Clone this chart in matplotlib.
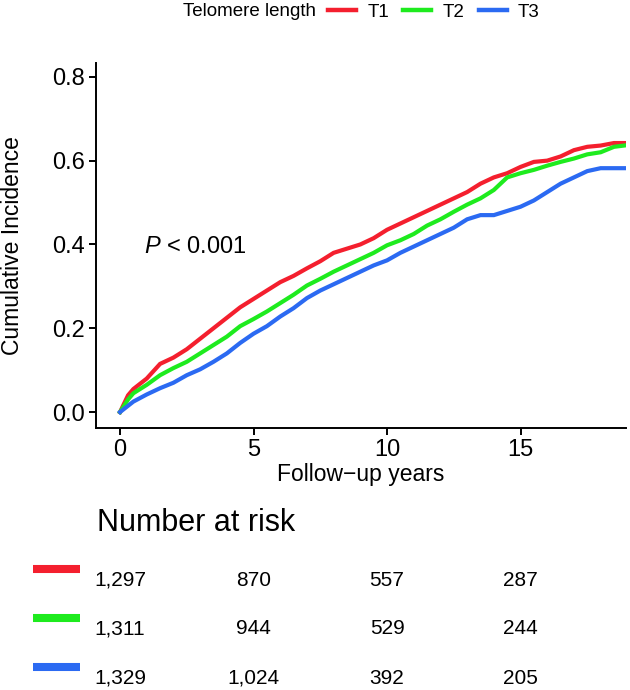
import numpy as np
import matplotlib.pyplot as plt
from matplotlib.lines import Line2D
from matplotlib.transforms import blended_transform_factory

plt.rcParams['font.family'] = ['Liberation Sans', 'DejaVu Sans']
plt.rcParams['mathtext.fontset'] = 'custom'
plt.rcParams['mathtext.it'] = 'Liberation Sans:italic'
plt.rcParams['mathtext.rm'] = 'Liberation Sans'

# cumulative incidence (years, value)
t_red = [0, 0.3, 0.5, 1, 1.5, 2, 2.5, 3, 3.5, 4, 4.5, 5, 5.5, 6, 6.5, 7, 7.5, 8, 8.5, 9, 9.5,
         10, 10.5, 11, 11.5, 12, 12.5, 13, 13.5, 14, 14.5, 15, 15.5, 16, 16.5, 17, 17.5, 18, 18.5, 19]
ci_red = [0, 0.04, 0.055, 0.08, 0.115, 0.13, 0.15, 0.175, 0.2, 0.225, 0.25, 0.27, 0.29, 0.31, 0.325,
          0.343, 0.36, 0.38, 0.39, 0.40, 0.415, 0.435, 0.45, 0.465, 0.48, 0.495, 0.51, 0.525, 0.545,
          0.56, 0.57, 0.585, 0.597, 0.60, 0.61, 0.625, 0.633, 0.636, 0.642, 0.642]

t_green = t_red
ci_green = [0, 0.03, 0.045, 0.065, 0.088, 0.105, 0.12, 0.14, 0.16, 0.18, 0.205, 0.222, 0.24, 0.26,
            0.28, 0.302, 0.318, 0.335, 0.35, 0.365, 0.38, 0.398, 0.41, 0.425, 0.445, 0.46, 0.478,
            0.495, 0.51, 0.53, 0.56, 0.57, 0.578, 0.588, 0.597, 0.605, 0.615, 0.62, 0.633, 0.637]

t_blue = t_red
ci_blue = [0, 0.015, 0.025, 0.042, 0.057, 0.07, 0.088, 0.102, 0.12, 0.14, 0.165, 0.187, 0.205,
           0.228, 0.248, 0.272, 0.29, 0.305, 0.32, 0.335, 0.35, 0.362, 0.38, 0.395, 0.41, 0.425,
           0.44, 0.46, 0.47, 0.47, 0.48, 0.49, 0.505, 0.525, 0.545, 0.56, 0.575, 0.582, 0.582, 0.582]

groups = ['T1', 'T2', 'T3']
colors = ['#F41F2E', '#1EEB1E', '#2B6AF2']
risk_times = [0, 5, 10, 15]
at_risk = [['1,297', '870', '557', '287'],
           ['1,311', '944', '529', '244'],
           ['1,329', '1,024', '392', '205']]

W, H = 630, 690
fig = plt.figure(figsize=(W / 100, H / 100), dpi=100)
ax = fig.add_axes([96 / W, 1 - 428 / H, (626 - 96) / W, (428 - 63) / H])

for t, ci, c in zip([t_red, t_green, t_blue], [ci_red, ci_green, ci_blue], colors):
    ax.plot(t, ci, color=c, lw=3.0, solid_joinstyle='miter')

ax.set_xlim(-0.9, 18.95)
ax.set_ylim(-0.038, 0.833)
ax.set_xticks([0, 5, 10, 15])
ax.set_yticks([0, 0.2, 0.4, 0.6, 0.8])
ax.set_yticklabels(['0.0', '0.2', '0.4', '0.6', '0.8'])
for s in ['top', 'right']:
    ax.spines[s].set_visible(False)
for s in ['left', 'bottom']:
    ax.spines[s].set_linewidth(1.4)
ax.tick_params(direction='out', length=5, width=1.4, labelsize=17, colors='black', pad=3)
ax.set_xlabel('Follow\u2212up years', fontsize=16.5, labelpad=1)
ax.set_ylabel('Cumulative Incidence', fontsize=16.5, labelpad=20)
ax.text(0.88, 0.393, r'$\mathit{P}$ < 0.001', fontsize=17, va='center', ha='left')

# legend at top
fig.text(183 / W, 1 - 12 / H, 'Telomere length', fontsize=13.5, va='center', ha='left')
handles = [Line2D([], [], color=c, lw=3.2) for c in colors]
fig.legend(handles, groups, loc='center left', bbox_to_anchor=(328 / W, 1 - 12 / H), ncol=3,
           frameon=False, fontsize=13.5, handlelength=1.5, handletextpad=0.6, columnspacing=0.75,
           borderpad=0, borderaxespad=0)

# number at risk table
fig.text(97 / W, 1 - 523 / H, 'Number at risk', fontsize=22, va='center', ha='left')
tr = blended_transform_factory(ax.transData, fig.transFigure)
row_y = [580, 629, 678]
for i, row in enumerate(at_risk):
    y = row_y[i]
    fig.add_artist(Line2D([33 / W, 80 / W], [1 - (y - 11) / H] * 2, color=colors[i], lw=5.8,
                          solid_capstyle='butt'))
    for x, v in zip(risk_times, row):
        fig.text(x, 1 - y / H, v, fontsize=15, va='center', ha='center', transform=tr)

fig.savefig('out.png', dpi=100)
